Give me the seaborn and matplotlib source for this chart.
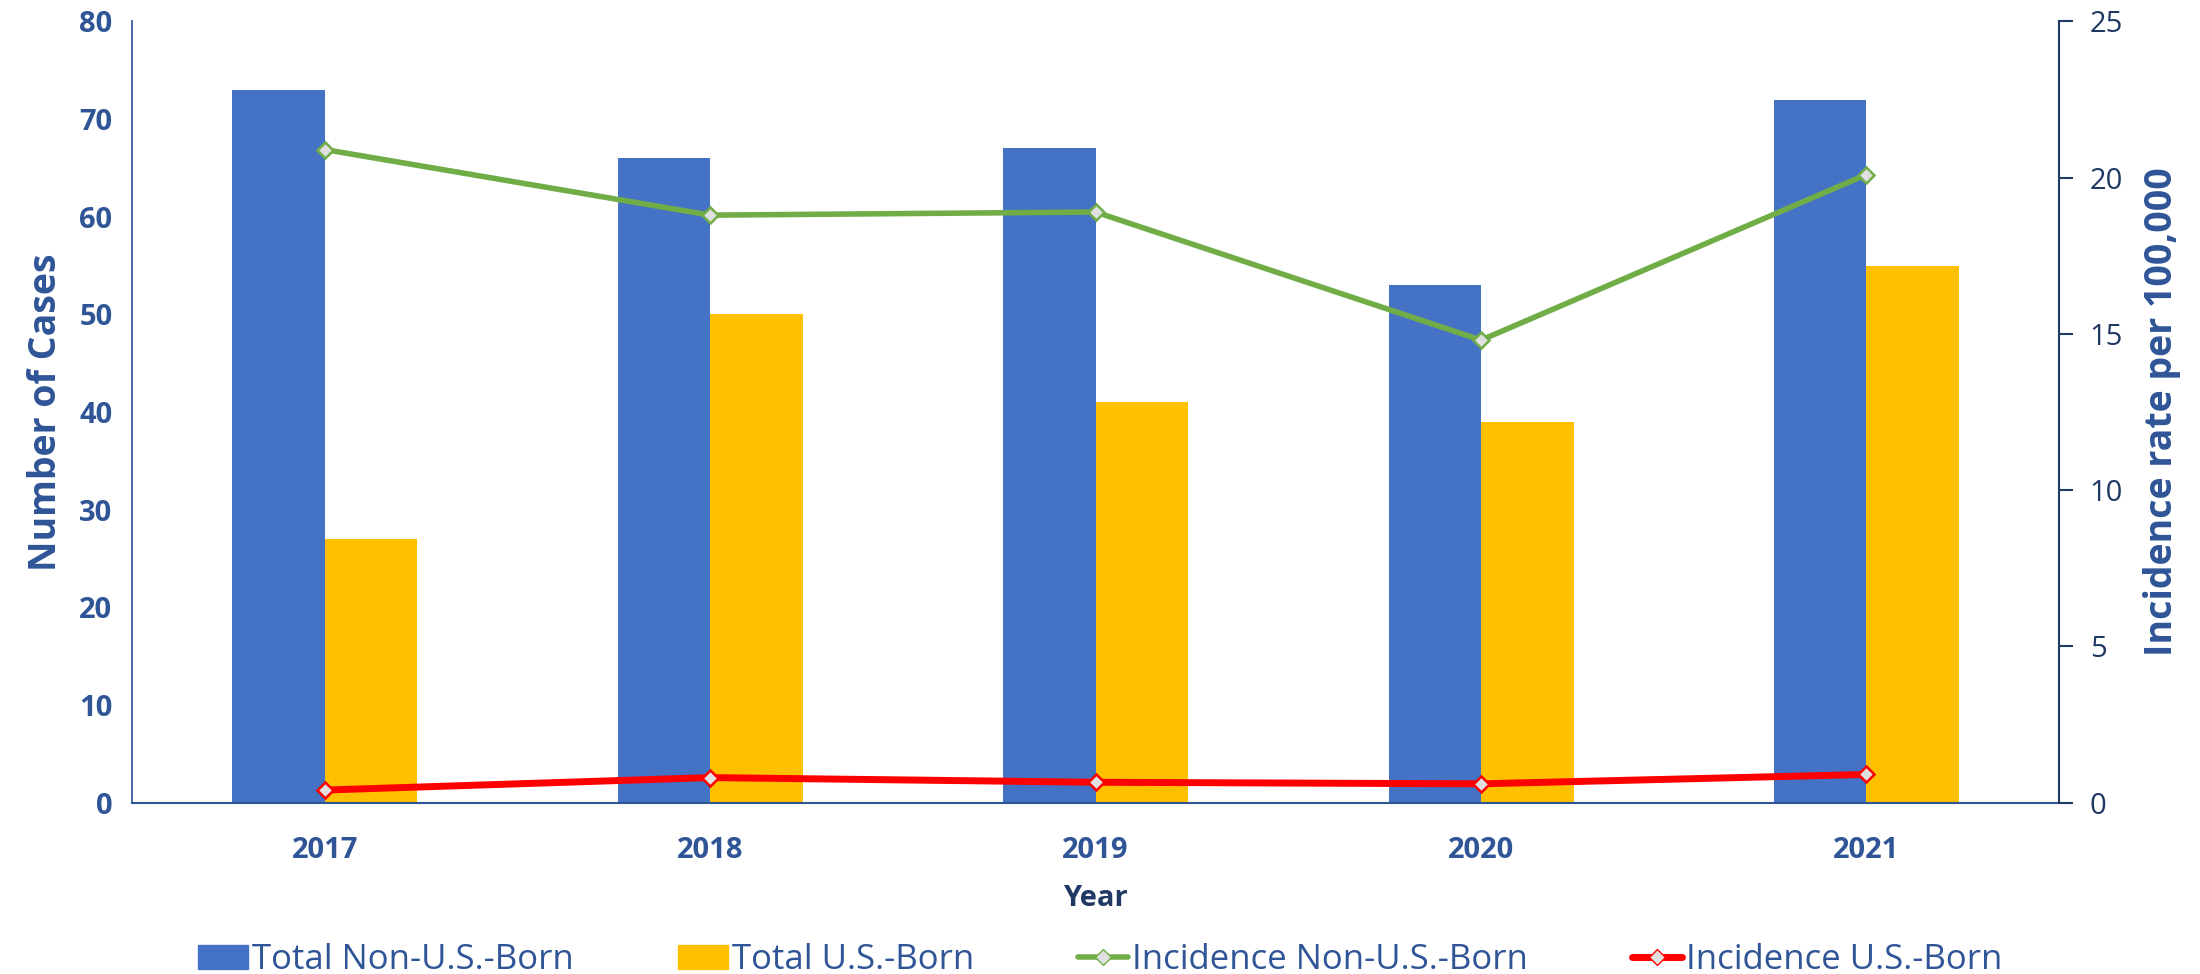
import pandas as pd
import numpy as np
import matplotlib.pyplot as plt
import seaborn as sns
from matplotlib.lines import Line2D
from matplotlib.ticker import MultipleLocator, FixedLocator

years = ['2017', '2018', '2019', '2020', '2021']
total_non_us = [73, 66, 67, 53, 72]
total_us = [27, 50, 41, 39, 55]
inc_non_us = [20.9, 18.8, 18.9, 14.8, 20.1]
inc_us = [0.4, 0.8, 0.65, 0.6, 0.9]

blue = '#4472C4'
gold = '#FFC000'
green = '#70AD47'
red = '#FF0000'
txt = '#2F5597'
navy = '#203864'

sns.set_theme(style='white')
plt.rcParams['font.family'] = ['Open Sans', 'DejaVu Sans']

bars = pd.DataFrame({
    'Year': years * 2,
    'Cases': total_non_us + total_us,
    'Group': ['Total Non-U.S.-Born'] * 5 + ['Total U.S.-Born'] * 5,
})

fig, ax = plt.subplots(figsize=(22, 9.74), dpi=100)
fig.subplots_adjust(left=0.06, right=0.936, top=0.978, bottom=0.176)

sns.barplot(data=bars, x='Year', y='Cases', hue='Group', palette=[blue, gold],
            width=0.48, gap=0, saturation=1, linewidth=0, ax=ax, legend=False)
ax.set_xlim(-0.5, 4.5)
ax.set_ylim(0, 80)
ax.yaxis.set_major_locator(MultipleLocator(10))

ax2 = ax.twinx()
pos = np.arange(len(years))
sns.lineplot(x=pos, y=inc_non_us, ax=ax2, color=green, lw=4, marker='D', ms=8,
             markerfacecolor='#E0E0E0', markeredgecolor=green, markeredgewidth=1.8)
sns.lineplot(x=pos, y=inc_us, ax=ax2, color=red, lw=5, marker='D', ms=8,
             markerfacecolor='#E0E0E0', markeredgecolor=red, markeredgewidth=1.8)
ax2.set_ylim(0, 25)
ax2.yaxis.set_major_locator(MultipleLocator(5))
ax2.set_xlim(-0.5, 4.5)

# axes styling
for a in (ax, ax2):
    a.spines['top'].set_visible(False)
ax.spines['left'].set_color(txt)
ax.spines['bottom'].set_color(txt)
ax.spines['bottom'].set_linewidth(1.5)
ax2.spines['right'].set_color(navy)
ax2.spines['right'].set_linewidth(1.5)
ax2.spines['left'].set_visible(False)
ax2.spines['bottom'].set_visible(False)

ax.tick_params(axis='x', which='major', length=0, pad=24, labelsize=21, labelcolor=txt)
ax.xaxis.set_minor_locator(FixedLocator(np.arange(-0.5, 5, 1)))
ax.tick_params(axis='x', which='minor', length=12, width=1.5, color=txt, direction='out')
ax.tick_params(axis='y', length=0, labelsize=21, labelcolor=txt, pad=14)
for lbl in ax.get_xticklabels() + ax.get_yticklabels():
    lbl.set_fontweight('bold')
ax2.tick_params(axis='y', right=True, length=10, width=1.5, color=navy,
                labelsize=21, labelcolor=navy, pad=12)

ax.set_xlabel('Year', fontsize=21, fontweight='bold', color=navy, labelpad=14)
ax.set_ylabel('Number of Cases', fontsize=27, fontweight='bold', color=txt, labelpad=10)
ax2.set_ylabel('Incidence rate per 100,000', fontsize=27, fontweight='bold', color=txt, labelpad=14)

handles = [
    plt.Rectangle((0, 0), 1, 1, color=blue),
    plt.Rectangle((0, 0), 1, 1, color=gold),
    Line2D([], [], color=green, lw=4, marker='D', ms=8, markerfacecolor='#E0E0E0', markeredgecolor=green),
    Line2D([], [], color=red, lw=5, marker='D', ms=8, markerfacecolor='#E0E0E0', markeredgecolor=red),
]
labels = ['Total Non-U.S.-Born', 'Total U.S.-Born', 'Incidence Non-U.S.-Born', 'Incidence U.S.-Born']
leg = fig.legend(handles, labels, loc='lower center', ncol=4, frameon=False,
                 fontsize=25, bbox_to_anchor=(0.5, -0.035), columnspacing=3.0,
                 handlelength=1.45, handletextpad=0.1)
for t in leg.get_texts():
    t.set_color(txt)

fig.savefig('out.png', dpi=100)
